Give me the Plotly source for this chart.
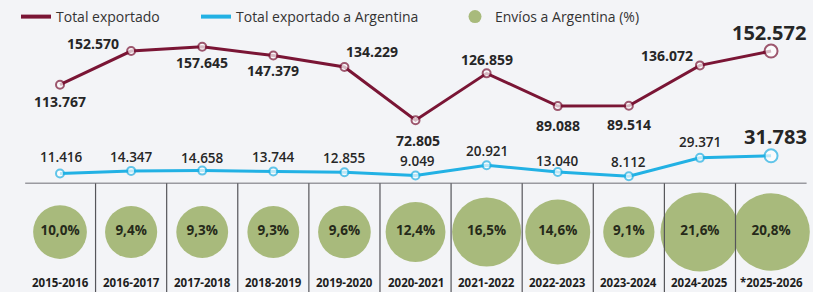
import numpy as np
import plotly.graph_objects as go

# ---- data ----
seasons = ["2015-2016", "2016-2017", "2017-2018", "2018-2019", "2019-2020",
           "2020-2021", "2021-2022", "2022-2023", "2023-2024", "2024-2025", "*2025-2026"]
total_exportado = [113.767, 152.570, 157.645, 147.379, 134.229, 72.805,
                   126.859, 89.088, 89.514, 136.072, 152.572]
total_argentina = [11.416, 14.347, 14.658, 13.744, 12.855, 9.049,
                   20.921, 13.040, 8.112, 29.371, 31.783]
envios_pct = [10.0, 9.4, 9.3, 9.3, 9.6, 12.4, 16.5, 14.6, 9.1, 21.6, 20.8]

def fmt_num(v):
    return f"{v:.3f}"

def fmt_pct(v):
    return f"{v:.1f}%".replace(".", ",")

# ---- styles / layout constants ----
MAROON = "#7a1535"
BLUE = "#22b1e4"
GREEN = "#a8ba7c"
BG = "#f3f4f7"
FONT = "Open Sans"
W, H = 813, 292
Y_RANGE = [-125.4, 211.5]
BUBBLE_Y = -56.2
LABEL_Y = -115.0

n = len(seasons)
x = list(range(n))
last = n - 1

maroon_dx = [0, -38, 0, 0, 28, 2, 0, 0, 0, -33, -2]
maroon_dy = [-17, 8, -16, -15, 15, -20, 14, -19, -19, 10, 19]
blue_dx = [1, 0, 0, 0, 0, 2, 0, 0, 0, 0, 4]
blue_dy = [16, 13.5, 13, 14, 14.5, 14.5, 14, 11.5, 14, 16, 19]

fig = go.Figure()

# bubbles
fig.add_trace(go.Scatter(
    x=x, y=[BUBBLE_Y] * n, mode="markers+text",
    marker=dict(size=[17 * np.sqrt(v) for v in envios_pct], sizemode="diameter",
                color=GREEN, line=dict(width=0), opacity=1),
    text=[fmt_pct(v) for v in envios_pct], textposition="middle center",
    textfont=dict(family=FONT, size=13.5, color="#262a1a", weight="bold"),
    showlegend=False, hoverinfo="skip", cliponaxis=False,
))

# lines
fig.add_trace(go.Scatter(
    x=x, y=total_exportado, mode="lines+markers",
    line=dict(color=MAROON, width=3),
    marker=dict(size=[8] * last + [13], color="white", line=dict(color=MAROON, width=2)),
    showlegend=False, cliponaxis=False,
))
fig.add_trace(go.Scatter(
    x=x, y=total_argentina, mode="lines+markers",
    line=dict(color=BLUE, width=3),
    marker=dict(size=[8] * last + [13], color="white", line=dict(color=BLUE, width=2)),
    showlegend=False, cliponaxis=False,
))

# legend entries (one legend box each, to place them like the reference)
fig.add_trace(go.Scatter(x=[None], y=[None], mode="lines", name="Total exportado",
                         line=dict(color=MAROON, width=4), legend="legend"))
fig.add_trace(go.Scatter(x=[None], y=[None], mode="lines", name="Total exportado a Argentina",
                         line=dict(color=BLUE, width=4), legend="legend2"))
fig.add_trace(go.Scatter(x=[None], y=[None], mode="markers", name="Envíos a Argentina (%)",
                         marker=dict(color=GREEN, size=13), legend="legend3"))

annotations = []
for i, v in enumerate(total_exportado):
    big = i == last
    annotations.append(dict(
        x=i, y=v, xref="x", yref="y", text=fmt_num(v), showarrow=False,
        xshift=maroon_dx[i], yshift=maroon_dy[i],
        font=dict(family=FONT, size=20 if big else 14, color="#262626", weight="bold"),
    ))
for i, v in enumerate(total_argentina):
    big = i == last
    annotations.append(dict(
        x=i, y=v, xref="x", yref="y", text=fmt_num(v), showarrow=False,
        xshift=blue_dx[i], yshift=blue_dy[i],
        font=dict(family=FONT, size=20 if big else 13.5, color="#262626",
                  weight="bold" if big else 600),
    ))
for i, s in enumerate(seasons):
    annotations.append(dict(
        x=i, y=LABEL_Y, xref="x", yref="y", text=s, showarrow=False,
        font=dict(family=FONT, size=11.5, color="#1e1e1e", weight="bold"),
    ))

shapes = [dict(type="line", xref="x", yref="y", x0=-0.49, x1=10.5, y0=0, y1=0,
               line=dict(color="#9a9aa0", width=1.5), layer="above")]
for i in range(n - 1):
    shapes.append(dict(type="line", xref="x", yref="y", x0=i + 0.5, x1=i + 0.5,
                       y0=0, y1=Y_RANGE[0], line=dict(color="#55555a", width=1.2),
                       layer="above"))

legend_common = dict(orientation="h", yanchor="top", xanchor="left", y=1 - 1 / H,
                     font=dict(family=FONT, size=14, color="#333333"),
                     bgcolor="rgba(0,0,0,0)", itemclick=False, itemdoubleclick=False)

fig.update_layout(
    width=W, height=H,
    margin=dict(l=0, r=0, t=0, b=0),
    paper_bgcolor=BG, plot_bgcolor=BG,
    xaxis=dict(range=[-0.844, 10.59], visible=False, fixedrange=True),
    yaxis=dict(range=Y_RANGE, visible=False, fixedrange=True),
    showlegend=True,
    legend=dict(x=16 / W, **legend_common),
    legend2=dict(x=196 / W, **legend_common),
    legend3=dict(x=455 / W, **legend_common),
    annotations=annotations,
    shapes=shapes,
    hovermode=False,
)

fig.write_html("out.html", config={"displayModeBar": False},
               post_script="document.body.style.margin='0';")
